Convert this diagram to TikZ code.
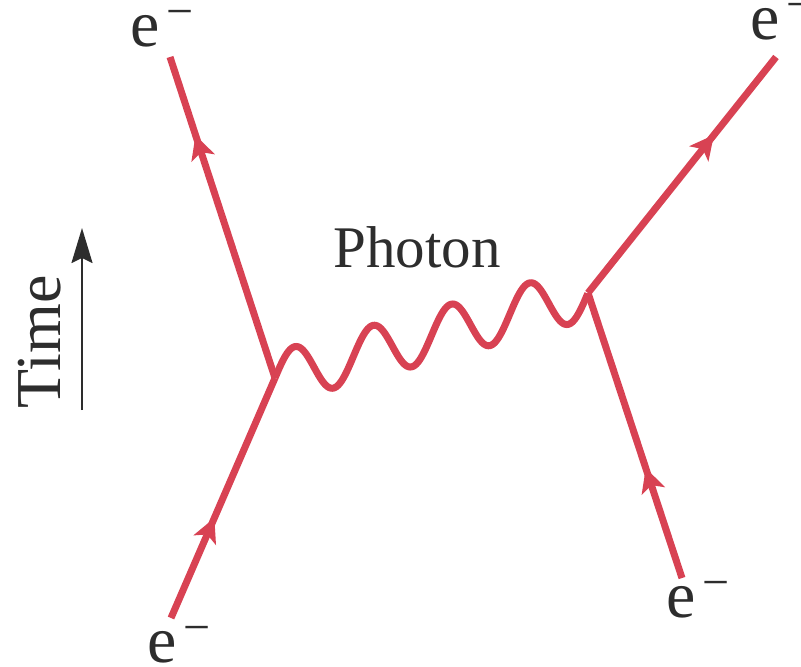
\documentclass[tikz,border=0pt]{standalone}
\usepackage{fontspec}
\setmainfont{Liberation Serif}
\usetikzlibrary{arrows.meta,decorations.markings}
\definecolor{fred}{RGB}{216,66,83}
\definecolor{ftext}{RGB}{45,45,45}
\newcommand{\elabel}{{\fontsize{66}{66}\selectfont e}\hspace{6.7pt}\raisebox{19pt}{\fontsize{48}{48}\selectfont −}}
\tikzset{
  fermion/.style={draw=fred, line width=7pt},
  midarrow/.style={postaction={decorate, decoration={markings,
      mark=at position #1 with {\arrow{Stealth[length=24pt,width=24pt,inset=6pt]}}}}},
  photonline/.style={draw=fred, line width=7pt, line join=round},
  elab/.style={anchor=base west, inner sep=0pt, text=ftext},
  timearrow/.style={draw=ftext, line width=2pt, -{Stealth[length=35pt,width=21pt,inset=5pt]}},
}
\begin{document}
\begin{tikzpicture}[x=1pt,y=-1pt]
\useasboundingbox (0,0) rectangle (801,667);
\coordinate (L) at (275,378);
\coordinate (R) at (588,293);
\coordinate (TL) at (170,57);
\coordinate (BL) at (171,618);
\coordinate (TR) at (776,57);
\coordinate (BR) at (682,578);
% fermion lines
\draw[fermion, midarrow=0.757, fred] (L) -- (TL);
\draw[fermion, midarrow=0.417, fred] (BL) -- (L);
\draw[fermion, midarrow=0.67, fred] (R) -- (TR);
\draw[fermion, midarrow=0.386, fred] (BR) -- (R);
% photon
\draw[photonline] plot[domain=0:4, samples=240] ({275 + 78.25*\x}, {378 - 21.25*\x - 26*sin(360*\x)});
% labels
\node[elab] (eTL) at (130.4,46) {\elabel};
\node[elab] (eBL) at (147.4,662) {\elabel};
\node[elab] (eBR) at (666.4,617) {\elabel};
\node[elab] (eTR) at (750.4,39) {\elabel};
\node[anchor=base, inner sep=0pt, text=ftext, font=\fontsize{59}{59}\selectfont] (photon) at (417,267) {Photon};
\node[anchor=base, inner sep=0pt, text=ftext, rotate=90, font=\fontsize{64}{64}\selectfont] (time) at (60,342) {Time};
\coordinate (T1) at (82,410);
\coordinate (T2) at (82,228);
\draw[timearrow] (T1) -- (T2);
\end{tikzpicture}
\end{document}
